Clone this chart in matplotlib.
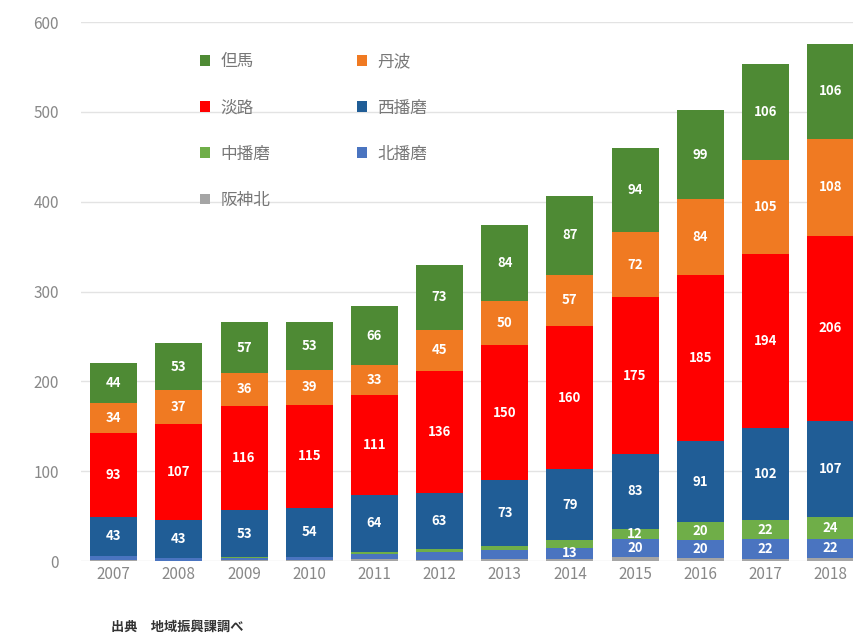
import matplotlib
matplotlib.use('Agg')
import matplotlib.pyplot as plt
import numpy as np

plt.rcParams['font.family'] = ['Noto Sans CJK JP', 'DejaVu Sans']

years = ['2007', '2008', '2009', '2010', '2011', '2012', '2013', '2014', '2015', '2016', '2017', '2018']

# bottom to top
hanshinkita = [1, 0, 1, 1, 2, 1, 2, 2, 4, 3, 2, 3]
kitaharima = [5, 3, 2, 3, 6, 9, 10, 13, 20, 20, 22, 22]
nakaharima = [0, 0, 1, 1, 2, 3, 5, 8, 12, 20, 22, 24]
nishiharima = [43, 43, 53, 54, 64, 63, 73, 79, 83, 91, 102, 107]
awaji = [93, 107, 116, 115, 111, 136, 150, 160, 175, 185, 194, 206]
tamba = [34, 37, 36, 39, 33, 45, 50, 57, 72, 84, 105, 108]
tajima = [44, 53, 57, 53, 66, 73, 84, 87, 94, 99, 106, 106]

series = [
    ('阪神北', hanshinkita, '#a5a5a5'),
    ('北播磨', kitaharima, '#4a74c0'),
    ('中播磨', nakaharima, '#6fae48'),
    ('西播磨', nishiharima, '#205d96'),
    ('淡路', awaji, '#ff0000'),
    ('丹波', tamba, '#f07a22'),
    ('但馬', tajima, '#4e8a34'),
]

fig = plt.figure(figsize=(8.54, 6.4), dpi=100)
ax = fig.add_axes([0.095, 0.1234, 0.905, 0.842])

x = np.arange(len(years))
bottom = np.zeros(len(years))
handles = {}
for name, vals, col in series:
    vals = np.array(vals)
    b = ax.bar(x, vals, 0.72, bottom=bottom, color=col, label=name, zorder=3)
    handles[name] = b
    for xi, v, bt in zip(x, vals, bottom):
        if v >= 12:
            ax.text(xi, bt + v / 2, str(v), ha='center', va='center',
                    color='white', fontsize=9.5, fontweight='bold', zorder=4)
    bottom += vals

ax.set_xlim(-0.5, 11.36)
ax.set_ylim(0, 600)
ax.set_yticks(range(0, 601, 100))
ax.set_xticks(x)
ax.set_xticklabels(years)
ax.tick_params(length=0, colors='#888888', labelsize=11)
ax.tick_params(axis='y', pad=16)
ax.grid(axis='y', color='#e3e3e3', linewidth=1, zorder=0)
for s in ax.spines.values():
    s.set_visible(False)

order = ['但馬', '淡路', '中播磨', '阪神北', '丹波', '西播磨', '北播磨']
leg = ax.legend([handles[n] for n in order], order, ncol=2, frameon=False,
                loc='upper left', bbox_to_anchor=(0.135, 0.97),
                labelspacing=1.75, columnspacing=5.2, handlelength=0.6,
                handleheight=0.6, handletextpad=0.6, fontsize=12)
for t in leg.get_texts():
    t.set_color('#777777')

fig.text(0.13, 0.015, '出典　地域振興課調べ', fontsize=9.5, fontweight='bold', color='#333333')

fig.savefig('out.png', dpi=100)
